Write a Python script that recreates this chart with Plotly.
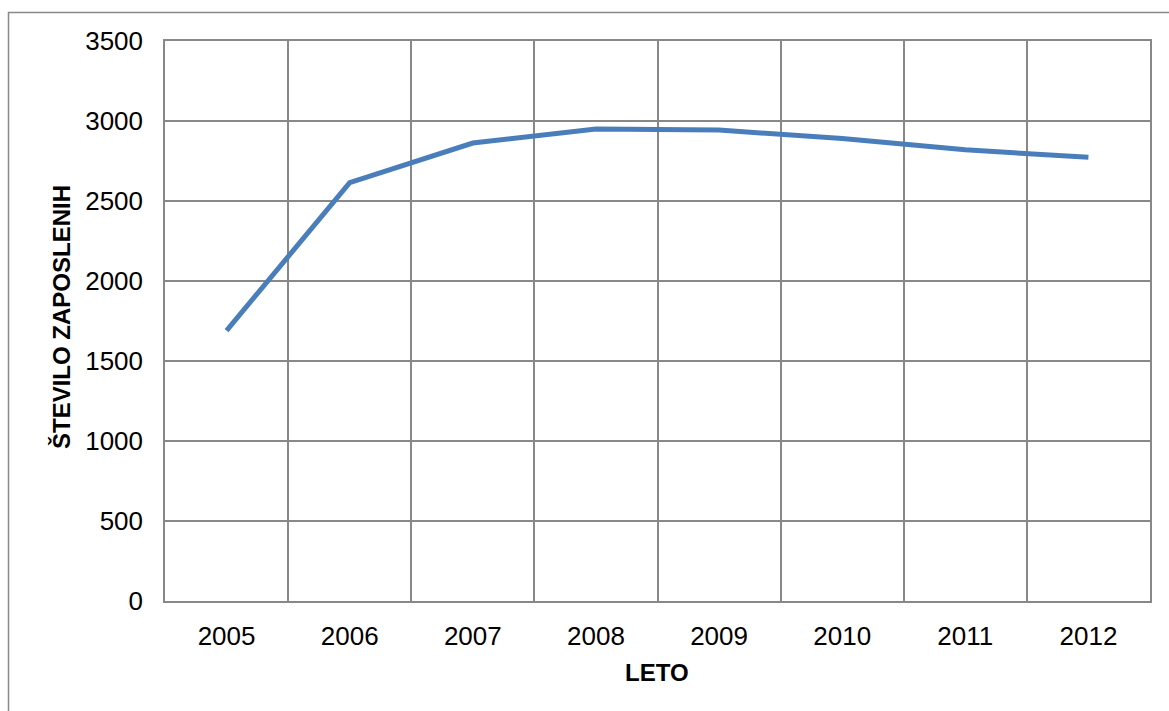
import plotly.graph_objects as go

# Employees per year
years = ["2005", "2006", "2007", "2008", "2009", "2010", "2011", "2012"]
employees = [1690, 2615, 2862, 2950, 2943, 2890, 2820, 2773]
y_ticks = [0, 500, 1000, 1500, 2000, 2500, 3000, 3500]

x_title = "LETO"
y_title = "ŠTEVILO ZAPOSLENIH"

tick_font = dict(family="Liberation Sans, Arial, sans-serif", size=26, color="#000000")
title_font = dict(family="Liberation Sans Narrow, Arial Narrow, Liberation Sans, sans-serif",
                  size=24, color="#000000", weight="bold")
grid_col = "#888888"

fig = go.Figure()
fig.add_trace(go.Scatter(
    x=years, y=employees, mode="lines",
    line=dict(color="#4a7ebb", width=5),
    hoverinfo="x+y", showlegend=False,
))

L, R, T, B = 165, 19, 41, 110
W, H = 1169, 711
pw, ph = W - L - R, H - T - B

fig.update_layout(
    width=W, height=H,
    margin=dict(l=L, r=R, t=T, b=B, pad=0),
    paper_bgcolor="#ffffff", plot_bgcolor="#ffffff",
    xaxis=dict(
        type="category", tickson="boundaries", range=[-0.5, 7.5],
        showgrid=True, gridcolor=grid_col, gridwidth=1.5,
        showline=True, linecolor=grid_col, linewidth=1.5, mirror=True,
        ticks="", tickfont=tick_font, ticklabelstandoff=11,
        zeroline=False, fixedrange=True, automargin=False,
    ),
    yaxis=dict(
        range=[0, 3500], tickvals=y_ticks,
        showgrid=True, gridcolor=grid_col, gridwidth=1.5,
        showline=True, linecolor=grid_col, linewidth=1.5, mirror=True,
        ticks="", tickfont=tick_font, ticklabelstandoff=15,
        zeroline=False, fixedrange=True, automargin=False,
    ),
    annotations=[
        dict(text=x_title, xref="paper", yref="paper",
             x=(657 - L) / pw, y=-(672 - (H - B)) / ph,
             showarrow=False, font=title_font,
             xanchor="center", yanchor="middle"),
        dict(text=y_title, xref="paper", yref="paper",
             x=-(L - 61) / pw, y=(H - B - 317) / ph, textangle=-90,
             showarrow=False, font=title_font, xanchor="center", yanchor="middle"),
    ],
    shapes=[
        # outer chart frame
        dict(type="rect", xref="paper", yref="paper",
             x0=(8.5 - L) / pw, x1=(W + 10 - L) / pw,
             y0=-(H + 10 - (H - B)) / ph, y1=(H - B - 12.5) / ph,
             line=dict(color="#888888", width=1.5), fillcolor="rgba(0,0,0,0)",
             layer="below"),
    ],
)

fig.write_html("out.html")
